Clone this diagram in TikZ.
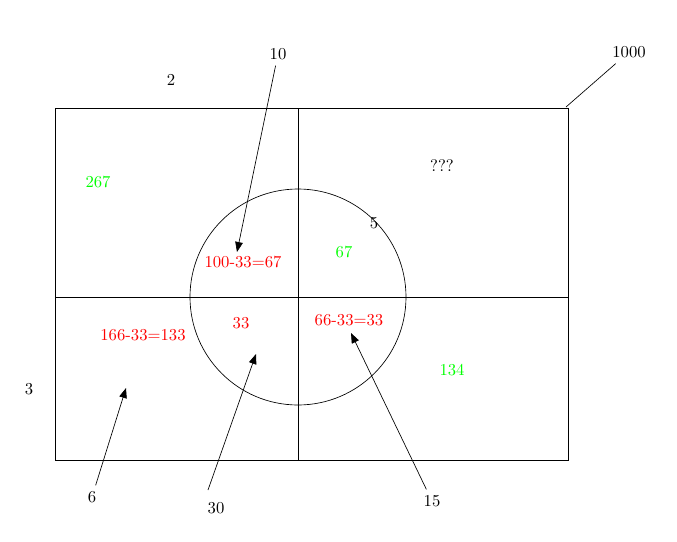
\documentclass[tikz,border=0pt]{standalone}
\usetikzlibrary{arrows.meta}

\begin{document}
\begin{tikzpicture}[x=0.6pt,y=-0.6pt,
  red lbl/.style={text=red},
  green lbl/.style={text=green},
  pointer/.style={-{Triangle[length=6pt,width=4.6pt]}}]
\useasboundingbox (0,0) rectangle (677,542);
\draw [black] (55,108) rectangle (568,460);
\draw [black] (298,108) -- (298,460);
\draw [black] (55,297) -- (568,297);
\draw [black] (298,297) circle (108);
\node (n2) at (171,80) {2};
\node (n10) at (278,54) {10};
\node (n1000) at (629,52) {1000};
\node (nq) at (442,166) {???};
\node [green lbl] (n267) at (98,182) {267};
\node (n5) at (374,223) {5};
\node [green lbl] (n67) at (344,252) {67};
\node [red lbl] (nab) at (243,262) {100-33=67};
\node [red lbl] (nabc) at (241,323) {33};
\node [red lbl] (nbc) at (349,320) {66-33=33};
\node [red lbl] (nac) at (143,335) {166-33=133};
\node [green lbl] (n134) at (452,370) {134};
\node (n3) at (29,389) {3};
\node (n6) at (92,497) {6};
\node (n30) at (216,508) {30};
\node (n15) at (432,501) {15};
\coordinate (corner) at (566,107);
\coordinate (t30) at (208,490);
\coordinate (h10) at (237,252);
\coordinate (h6) at (126,388);
\coordinate (h30) at (256,354);
\coordinate (h15) at (351,333);
\draw [black] (n1000) -- (corner);
\draw [pointer] (n10) -- (h10);
\draw [pointer] (n6) -- (h6);
\draw [pointer] (t30) -- (h30);
\draw [pointer] (n15) -- (h15);
\end{tikzpicture}
\end{document}
